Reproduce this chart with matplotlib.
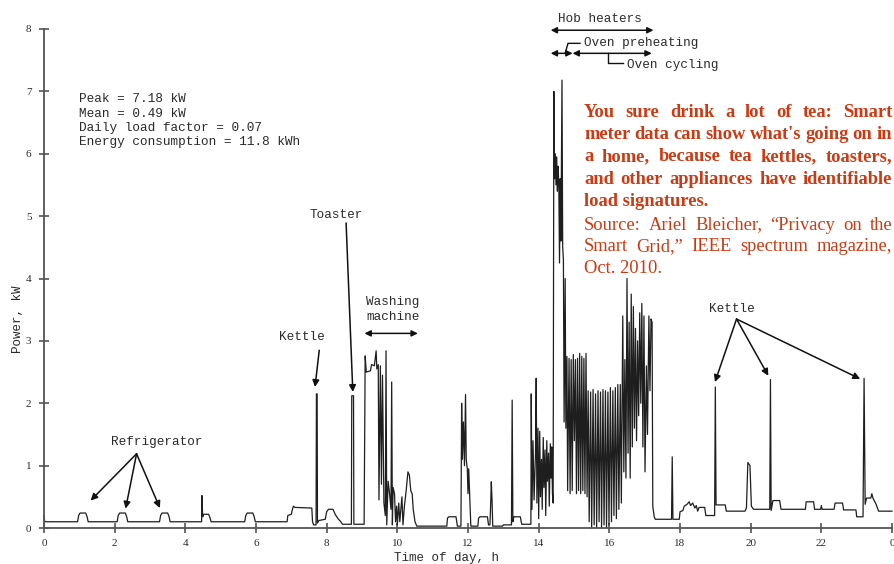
import matplotlib
matplotlib.use('Agg')

import numpy as np
import matplotlib.pyplot as plt
import matplotlib.transforms as mtransforms

# household load profile over one day (hour, kW)
hours = [
    0.00, 0.02, 0.95, 0.98, 1.02, 1.18, 1.22, 1.25,
    2.07, 2.10, 2.14, 2.30, 2.34, 2.37,
    3.27, 3.30, 3.34, 3.50, 3.54, 3.57,
    4.46, 4.47, 4.49, 4.52, 4.66, 4.70, 4.73,
    5.68, 5.71, 5.75, 5.91, 5.95, 5.98,
    6.88, 6.90, 7.00, 7.03, 7.06, 7.10, 7.58, 7.60, 7.63, 7.70, 7.71, 7.73, 7.74, 7.78,
    7.96, 8.00, 8.05, 8.18, 8.24, 8.32, 8.40, 8.45, 8.70, 8.71, 8.76, 8.77, 9.06,
    9.09, 9.12, 9.24, 9.27, 9.35, 9.40, 9.42, 9.46, 9.48, 9.52, 9.55, 9.58, 9.62, 9.66,
    9.68, 9.70, 9.74, 9.78, 9.82, 9.84, 9.86, 9.88, 9.92, 9.95, 9.98, 10.00, 10.04,
    10.07, 10.10, 10.13, 10.16, 10.20, 10.25, 10.30, 10.34, 10.38, 10.42, 10.45, 10.50, 10.55,
    11.40, 11.42, 11.46, 11.66, 11.70, 11.80, 11.82, 11.84, 11.87, 11.90, 11.93, 11.95,
    11.98, 12.00, 12.02, 12.05, 12.08, 12.28, 12.30, 12.34, 12.55, 12.58, 12.62, 12.64,
    12.66, 12.68, 12.70, 12.98, 13.00, 13.23, 13.25, 13.27, 13.30, 13.48, 13.52, 13.78,
    13.79, 13.81, 13.84, 13.87, 13.91, 13.93, 13.95, 13.98, 14.00, 14.03, 14.05, 14.08,
    14.10, 14.13, 14.15, 14.18, 14.20, 14.23, 14.25, 14.28, 14.30, 14.33, 14.35, 14.37, 14.39,
    14.41, 14.43, 14.45, 14.47, 14.49, 14.51, 14.53, 14.55, 14.57, 14.59, 14.61, 14.63,
    14.66, 14.68, 14.70, 14.72, 14.75, 14.77, 14.80, 14.82,
    14.86, 14.89, 14.92, 14.95, 14.98, 15.01, 15.04, 15.07, 15.10, 15.13, 15.16, 15.19,
    15.22, 15.25, 15.28, 15.31, 15.34, 15.37,
    15.40, 15.43, 15.47, 15.50, 15.54, 15.57, 15.61, 15.64, 15.68, 15.71, 15.75, 15.78,
    15.82, 15.85, 15.89, 15.92, 15.96, 15.99, 16.03, 16.06, 16.10, 16.13, 16.17, 16.20,
    16.24, 16.27, 16.31, 16.34, 16.38, 16.41, 16.44, 16.47,
    16.50, 16.53, 16.56, 16.59, 16.62, 16.65, 16.68, 16.71, 16.74, 16.77, 16.80, 16.83,
    16.86, 16.89, 16.92, 16.95, 16.98, 17.01, 17.05, 17.08, 17.12, 17.15, 17.18, 17.21, 17.23,
    17.27, 17.30, 17.76, 17.78, 17.80, 17.98, 18.00, 18.08, 18.12, 18.20, 18.26, 18.30,
    18.36, 18.42, 18.46, 18.50, 18.54, 18.70, 18.73, 18.98, 19.00, 19.02, 19.28, 19.31,
    19.84, 19.88, 19.92, 19.98, 20.02, 20.08, 20.54, 20.56, 20.58, 20.63, 20.82, 20.86,
    21.55, 21.57, 21.78, 21.81, 21.98, 22.00, 22.02, 22.36, 22.39, 22.60, 22.63, 22.98,
    23.00, 23.18, 23.21, 23.24, 23.28, 23.40, 23.43, 23.46, 23.55, 23.62, 24.00,
]
load_kw = [
    0.20, 0.10, 0.10, 0.20, 0.24, 0.24, 0.18, 0.10,
    0.10, 0.20, 0.24, 0.24, 0.18, 0.10,
    0.10, 0.20, 0.24, 0.24, 0.18, 0.10,
    0.10, 0.52, 0.18, 0.22, 0.22, 0.16, 0.10,
    0.10, 0.20, 0.24, 0.24, 0.18, 0.10,
    0.10, 0.20, 0.22, 0.30, 0.35, 0.33, 0.32, 0.10, 0.05, 0.05, 2.15, 2.15, 0.08, 0.12,
    0.14, 0.26, 0.30, 0.30, 0.22, 0.15, 0.10, 0.06, 0.06, 2.12, 2.12, 0.06, 0.06,
    2.76, 2.50, 2.52, 2.62, 2.60, 2.84, 2.55, 2.62, 0.45, 2.60, 0.70, 2.45, 0.40, 0.20,
    2.84, 0.05, 0.75, 0.55, 0.30, 2.34, 0.05, 0.65, 0.55, 0.10, 0.35, 0.05, 0.40,
    0.10, 0.30, 0.50, 0.05, 0.35, 0.60, 0.90, 0.85, 0.60, 0.55, 0.30, 0.10, 0.03,
    0.03, 0.16, 0.18, 0.18, 0.03, 0.03, 2.00, 1.10, 1.70, 1.00, 2.14, 1.10,
    0.95, 0.55, 0.95, 0.50, 0.03, 0.03, 0.16, 0.18, 0.18, 0.05, 0.05, 0.35,
    0.74, 0.45, 0.03, 0.03, 0.05, 0.05, 2.05, 0.10, 0.18, 0.18, 0.06, 0.06,
    2.15, 0.30, 1.40, 0.45, 1.20, 2.40, 0.40, 1.60, 0.15, 1.55, 0.50, 1.10,
    0.30, 1.45, 0.65, 1.25, 0.20, 1.40, 0.75, 1.20, 0.35, 1.35, 0.80, 1.30, 0.55,
    0.40, 7.00, 5.60, 6.00, 5.50, 5.95, 5.40, 5.80, 5.50, 4.25, 5.60, 4.60,
    7.18, 4.50, 4.30, 1.70, 4.00, 1.60, 2.75, 0.60,
    2.72, 0.55, 2.70, 0.60, 2.78, 1.40, 2.70, 0.55, 2.72, 0.60, 2.80, 0.55,
    2.75, 0.60, 2.72, 0.55, 2.80, 0.50,
    2.20, 0.10, 2.18, 0.00, 2.22, 0.05, 2.15, 0.00, 2.20, 0.10, 2.18, 0.00,
    2.22, 0.05, 2.20, 0.00, 2.18, 0.05, 2.25, 0.10, 2.20, 0.20, 2.25, 0.15,
    2.30, 0.30, 2.30, 0.40, 3.40, 0.90, 2.70, 0.80,
    4.00, 1.20, 3.30, 0.80, 3.75, 1.30, 3.55, 1.60, 3.20, 1.40, 3.00, 1.80,
    3.45, 2.00, 3.60, 1.30, 3.40, 0.90, 2.60, 1.50, 3.40, 2.20, 3.35, 3.30, 0.35,
    0.18, 0.14, 0.14, 1.14, 0.14, 0.14, 0.26, 0.28, 0.35, 0.38, 0.42, 0.36,
    0.40, 0.32, 0.36, 0.27, 0.33, 0.33, 0.20, 0.20, 2.26, 0.37, 0.37, 0.27,
    0.27, 0.32, 1.05, 1.00, 0.35, 0.30, 0.30, 2.38, 0.28, 0.44, 0.44, 0.30,
    0.30, 0.42, 0.42, 0.30, 0.30, 0.36, 0.30, 0.30, 0.40, 0.40, 0.29, 0.29,
    0.18, 0.18, 2.40, 0.38, 0.48, 0.48, 0.55, 0.48, 0.38, 0.27, 0.27,
]

x_ticks = [0, 2, 4, 6, 8, 10, 12, 14, 16, 18, 20, 22, 24]
x_ticklabels = ['0', '2', '4', '6', '8', '10', '12', '14', '16', '18', '20', '22', '0']
y_ticks = [0, 1, 2, 3, 4, 5, 6, 7, 8]

stats_lines = ['Peak = 7.18 kW', 'Mean = 0.49 kW',
               'Daily load factor = 0.07', 'Energy consumption = 11.8 kWh']

caption_bold = ["You sure drink a lot of tea: Smart",
                "meter data can show what's going on in",
                "a home, because tea kettles, toasters,",
                "and other appliances have identifiable",
                "load signatures."]
caption_source = ["Source: Ariel Bleicher, \u201cPrivacy on the",
                  "Smart Grid,\u201d IEEE spectrum magazine,",
                  "Oct. 2010."]

W, H = 894, 564
MONO = 'Liberation Mono'
SERIF = 'Liberation Serif'
INK = '#2a2a2a'
RED = '#cc3a14'

fig = plt.figure(figsize=(W / 100, H / 100), dpi=100)
ax = fig.add_axes([44 / W, 1 - 528 / H, (892 - 44) / W, (528 - 29) / H])

ax.plot(hours, load_kw, color='#1e1e1e', lw=0.9, clip_on=False)

ax.set_xlim(0, 24)
ax.set_ylim(0, 8)
for side in ['top', 'right']:
    ax.spines[side].set_visible(False)
for side in ['left', 'bottom']:
    ax.spines[side].set_color('#555555')
    ax.spines[side].set_linewidth(1.3)
ax.set_xticks(x_ticks)
ax.set_xticklabels(x_ticklabels)
ax.set_yticks(y_ticks)
ax.tick_params(direction='inout', length=7, width=1.1, color='#444444',
               labelsize=8, labelcolor=INK)
ax.tick_params(axis='x', pad=4.5)
ax.tick_params(axis='y', pad=5.5)
for lab in ax.get_xticklabels() + ax.get_yticklabels():
    lab.set_fontfamily(SERIF)

fig.text(18 / W, 1 - 319 / H, 'Power, kW', rotation=90, ha='center', va='center',
         family=MONO, size=9, color=INK)
fig.text(446 / W, 1 - 558 / H, 'Time of day, h', ha='center', va='center',
         family=MONO, size=9, color=INK)

# summary numbers
for i, line in enumerate(stats_lines):
    ax.text(0.99, 6.87 - 0.227 * i, line, ha='left', va='center',
            family=MONO, size=9.2, color=INK)

mono = dict(family=MONO, size=9.1, color=INK)
arrow = dict(arrowstyle='-|>', color='#111111', lw=1.1, mutation_scale=10,
             shrinkA=0, shrinkB=0)
both = dict(arrowstyle='<|-|>', color='#111111', lw=1.1, mutation_scale=9,
            shrinkA=0, shrinkB=0)

# refrigerator cycles
ax.text(3.19, 1.38, 'Refrigerator', ha='center', va='center', **mono)
for tx, ty in [(1.32, 0.44), (2.31, 0.31), (3.28, 0.32)]:
    ax.annotate('', xy=(tx, ty), xytext=(2.62, 1.19), arrowprops=arrow)

# morning kettle and toaster
ax.text(7.31, 3.07, 'Kettle', ha='center', va='center', **mono)
ax.annotate('', xy=(7.67, 2.26), xytext=(7.79, 2.85), arrowprops=arrow)
ax.text(8.28, 5.02, 'Toaster', ha='center', va='center', **mono)
ax.annotate('', xy=(8.74, 2.18), xytext=(8.55, 4.89), arrowprops=arrow)

# washing machine
ax.text(9.87, 3.62, 'Washing', ha='center', va='center', **mono)
ax.text(9.87, 3.39, 'machine', ha='center', va='center', **mono)
ax.annotate('', xy=(10.58, 3.12), xytext=(9.07, 3.12), arrowprops=both)

# evening kettles
ax.text(19.48, 3.51, 'Kettle', ha='center', va='center', **mono)
for tx, ty in [(18.99, 2.34), (20.5, 2.44), (23.1, 2.39)]:
    ax.annotate('', xy=(tx, ty), xytext=(19.6, 3.35), arrowprops=arrow)

# cooking spans above the plot
ax.text(14.56, 8.16, 'Hob heaters', ha='left', va='center', **mono)
ax.annotate('', xy=(17.25, 7.98), xytext=(14.34, 7.98), arrowprops=both,
            annotation_clip=False)
ax.annotate('', xy=(14.96, 7.61), xytext=(14.34, 7.61), arrowprops=both,
            annotation_clip=False)
ax.annotate('', xy=(17.2, 7.61), xytext=(14.96, 7.61), arrowprops=both,
            annotation_clip=False)
ax.plot([15.17, 14.83, 14.75], [7.77, 7.77, 7.61], color='#111111', lw=1.0,
        clip_on=False)
ax.text(15.28, 7.78, 'Oven preheating', ha='left', va='center', **mono)
ax.plot([15.97, 15.97, 16.4], [7.61, 7.46, 7.46], color='#111111', lw=1.0,
        clip_on=False)
ax.text(16.49, 7.42, 'Oven cycling', ha='left', va='center', **mono)

# caption, justified like a printed column
renderer = fig.canvas.get_renderer()
px = mtransforms.IdentityTransform()
x_left, x_right = 584, 892
bold_props = dict(family=SERIF, size=13.3, weight='bold', color=RED)
norm_props = dict(family=SERIF, size=13.3, color=RED)
rows = ([(s, bold_props, i == len(caption_bold) - 1) for i, s in enumerate(caption_bold)] +
        [(s, norm_props, i == len(caption_source) - 1) for i, s in enumerate(caption_source)])
baselines = [117, 139.2, 161.4, 183.6, 205.8, 229.5, 251.2, 273]


def text_width(s, props):
    t = fig.text(0, 0, s, transform=px, **props)
    w = t.get_window_extent(renderer).width
    t.remove()
    return w


for (s, props, last), base in zip(rows, baselines):
    y = H - base
    if last:
        fig.text(x_left, y, s, transform=px, ha='left', va='baseline', **props)
        continue
    words = s.split(' ')
    widths = [text_width(w, props) for w in words]
    gap = (x_right - x_left - sum(widths)) / (len(words) - 1)
    x = x_left
    for w, wd in zip(words, widths):
        fig.text(x, y, w, transform=px, ha='left', va='baseline', **props)
        x += wd + gap

fig.savefig('out.png', dpi=100)
